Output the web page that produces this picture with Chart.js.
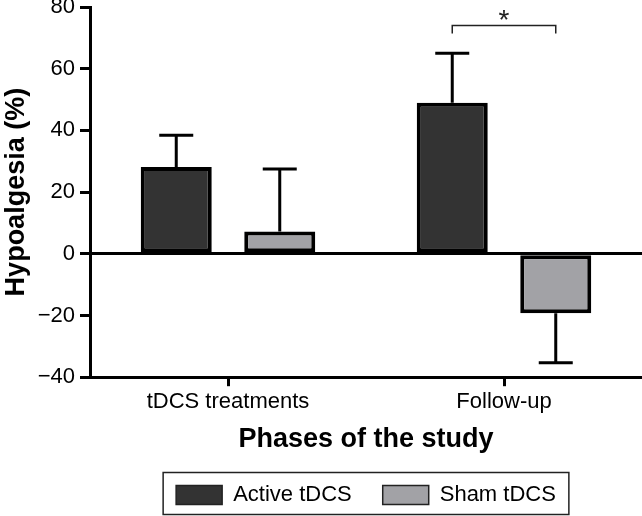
<!DOCTYPE html>
<html lang="en">
  <head>
    <meta charset="utf-8" />
    <title>Hypoalgesia by phase</title>
    <script src="https://cdn.jsdelivr.net/npm/chart.js@4.4.1/dist/chart.umd.min.js"></script>
    <style>
      body { margin: 0; background: #fff; }
      .chartContainer { width: 642px; height: 516px; }
    </style>
  </head>
  <body>
    <div class="chartContainer">
      <canvas id="myChart"></canvas>
    </div>

    <script>
      // values
      const phases = ['tDCS treatments', 'Follow-up'];
      const activeMean = [28.1, 49.0];
      const activeSD = [10.3, 16.0];
      const shamMean = [7.2, -19.3];
      const shamSD = [20.3, 16.0];
      const yMin = -40, yMax = 80, yStep = 20;
      // significance bracket over the follow-up pair
      const sigPhase = 1;
      const sigLevel = 74;
      const sigLabel = '*';

      const FONT = '"Liberation Sans", Arial, Helvetica, sans-serif';
      Chart.defaults.font.family = FONT;
      Chart.defaults.color = '#000';

      const errorBars = {
        id: 'errorBars',
        afterDatasetsDraw(chart) {
          const ctx = chart.ctx;
          const y = chart.scales.y;
          const sds = [activeSD, shamSD];
          ctx.save();
          ctx.strokeStyle = '#000';
          ctx.lineWidth = 3;
          chart.data.datasets.forEach((ds, i) => {
            chart.getDatasetMeta(i).data.forEach((bar, j) => {
              const v = ds.data[j];
              const end = y.getPixelForValue(v >= 0 ? v + sds[i][j] : v - sds[i][j]);
              ctx.beginPath();
              ctx.moveTo(bar.x, bar.y);
              ctx.lineTo(bar.x, end);
              ctx.moveTo(bar.x - 17, end);
              ctx.lineTo(bar.x + 17, end);
              ctx.stroke();
            });
          });
          // bracket + asterisk
          const x1 = chart.getDatasetMeta(0).data[sigPhase].x;
          const x2 = chart.getDatasetMeta(1).data[sigPhase].x;
          const by = y.getPixelForValue(sigLevel);
          ctx.lineWidth = 1.5;
          ctx.strokeStyle = '#222';
          ctx.beginPath();
          ctx.moveTo(x1, by + 8);
          ctx.lineTo(x1, by);
          ctx.lineTo(x2, by);
          ctx.lineTo(x2, by + 8);
          ctx.stroke();
          ctx.fillStyle = '#222';
          ctx.font = '28px ' + FONT;
          ctx.textAlign = 'center';
          ctx.textBaseline = 'alphabetic';
          ctx.fillText(sigLabel, (x1 + x2) / 2, by + 3);
          ctx.restore();
        }
      };

      const legendFrame = {
        id: 'legendFrame',
        afterDraw(chart) {
          const hb = chart.legend.legendHitBoxes;
          if (!hb || !hb.length) return;
          const last = hb[hb.length - 1];
          const ctx = chart.ctx;
          ctx.save();
          ctx.strokeStyle = '#222';
          ctx.lineWidth = 1.5;
          ctx.strokeRect(hb[0].left - 13, hb[0].top - 11.5,
            last.left + last.width + 13 - (hb[0].left - 13), 42);
          ctx.restore();
        }
      };

      new Chart(document.getElementById('myChart'), {
        type: 'bar',
        data: {
          labels: phases,
          datasets: [{
            label: 'Active tDCS',
            data: activeMean,
            backgroundColor: '#333333',
            borderColor: '#000',
            borderWidth: 4,
            borderSkipped: false,
            categoryPercentage: 0.75,
            barPercentage: 0.686
          }, {
            label: 'Sham tDCS',
            data: shamMean,
            backgroundColor: '#a2a2a6',
            borderColor: '#000',
            borderWidth: 4,
            borderSkipped: false,
            categoryPercentage: 0.75,
            barPercentage: 0.686
          }]
        },
        options: {
          responsive: true,
          maintainAspectRatio: false,
          animation: false,
          layout: { padding: { top: 7, left: 0, right: 0, bottom: 0 } },
          plugins: {
            tooltip: { enabled: false },
            legend: {
              position: 'bottom',
              fullSize: false,
              labels: {
                boxWidth: 46,
                boxHeight: 19,
                padding: 31,
                color: '#000',
                font: { size: 22 },
                generateLabels: chart =>
                  Chart.defaults.plugins.legend.labels.generateLabels(chart)
                    .map(l => Object.assign(l, { lineWidth: 1.5, strokeStyle: '#222' }))
              }
            }
          },
          scales: {
            x: {
              grid: {
                offset: false,
                drawOnChartArea: false,
                tickLength: 9,
                tickColor: '#000',
                tickWidth: 3
              },
              border: { display: true, color: '#000', width: 3 },
              ticks: { padding: 3, color: '#000', font: { size: 22 } },
              title: {
                display: true,
                text: 'Phases of the study',
                color: '#000',
                font: { size: 27, weight: 'bold', lineHeight: 1.0 },
                padding: { top: 7.4, bottom: 0 }
              }
            },
            y: {
              min: yMin,
              max: yMax,
              afterFit: scale => {
                scale.width = 90;
                scale.paddingTop = 0;
                scale.paddingBottom = 0;
              },
              grid: {
                color: c => (c.tick && c.tick.value === 0 ? '#000' : 'transparent'),
                lineWidth: 3,
                tickLength: 10,
                tickColor: '#000',
                tickWidth: 3
              },
              border: { display: true, color: '#000', width: 3 },
              ticks: {
                stepSize: yStep,
                padding: 5,
                color: '#000',
                font: { size: 22 },
                callback: v => (v < 0 ? '\u2212' + Math.abs(v) : String(v))
              },
              title: {
                display: true,
                text: 'Hypoalgesia (%)',
                color: '#000',
                font: { size: 27, weight: 'bold' },
                padding: { top: 0, bottom: 0 }
              }
            }
          }
        },
        plugins: [errorBars, legendFrame]
      });
    </script>
  </body>
</html>
